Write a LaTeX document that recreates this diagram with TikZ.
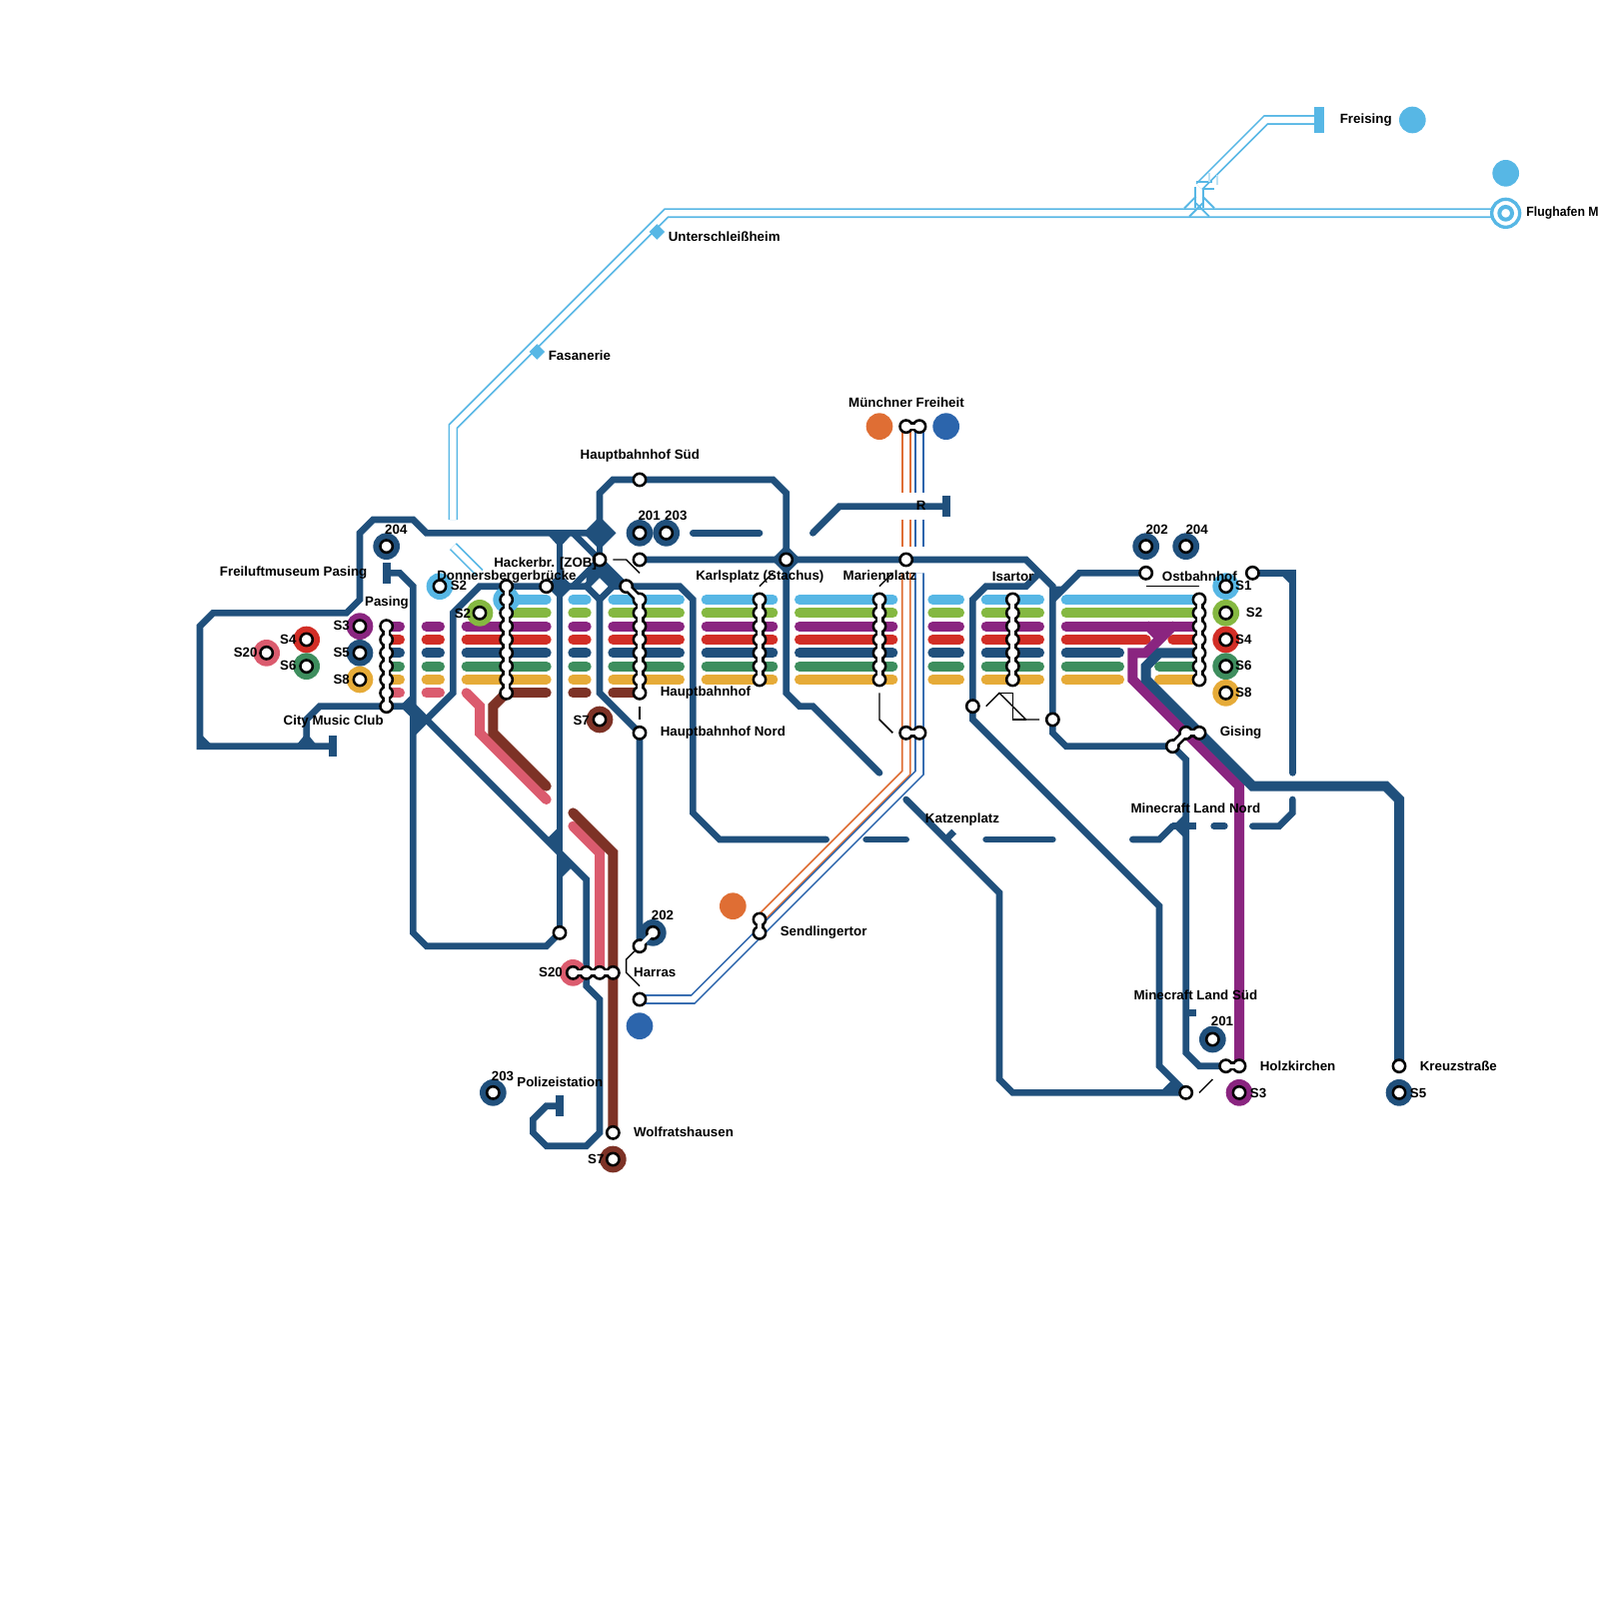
\documentclass[tikz,border=0pt]{standalone}
\usepackage{fontspec}
\setmainfont{Liberation Sans}
\usetikzlibrary{shapes.geometric,backgrounds}
\definecolor{cS1}{RGB}{87,183,229}
\definecolor{cS2}{RGB}{133,184,65}
\definecolor{cS3}{RGB}{138,37,128}
\definecolor{cS4}{RGB}{210,46,38}
\definecolor{cS5}{RGB}{32,80,124}
\definecolor{cS6}{RGB}{62,142,94}
\definecolor{cS7}{RGB}{125,50,38}
\definecolor{cS8}{RGB}{230,171,56}
\definecolor{cS20}{RGB}{219,91,110}
\definecolor{cOrange}{RGB}{223,110,52}
\definecolor{cBlue}{RGB}{44,101,172}
\tikzset{
  tline/.style={draw=cS5,line width=1mm,line cap=round,line join=miter},
  tbutt/.style={draw=cS5,line width=1mm,line cap=butt},
  fat/.style={draw=#1,line width=1.5mm,line cap=round,line join=miter},
  stripe/.style={draw=#1,line width=1.5mm,line cap=round},
  dbl/.style={draw=#1,double=white,line width=0.25mm,double distance=0.95mm,line cap=butt,line join=miter},
  hair/.style={draw=cS1,line width=0.28mm},
  leader/.style={draw=black,line width=0.22mm},
  stop/.style={circle,draw=black,fill=white,line width=0.38mm,minimum size=1.85mm,inner sep=0pt},
  disc/.style={circle,fill=#1,minimum size=4mm,inner sep=0pt},
  term/.style={rectangle,fill=cS5,minimum width=1.2mm,minimum height=3.2mm,inner sep=0pt},
  hub/.style={diamond,fill=cS5,aspect=1,minimum size=#1,inner sep=0pt},
  halt/.style={diamond,fill=cS1,aspect=1,minimum size=2.4mm,inner sep=0pt},
  neckout/.style={draw=black,line width=1.35mm,line cap=butt},
  neckin/.style={draw=white,line width=0.6mm,line cap=butt},
  lbl/.style={font=\bfseries\fontsize{5.69}{7}\selectfont,inner sep=0pt,xshift=0.05mm,yshift=-0.15mm},
  lblw/.style={lbl,anchor=west},
}
\begin{document}
\begin{tikzpicture}[x=2mm,y=-2mm]
  \useasboundingbox (0,0) rectangle (120,120);
  % end bars and hubs
  \node[term] (pasEnd) at (29,43) {};
  \node[term] (cityEnd) at (25,56) {};
  \node[term] (polEnd) at (42,83) {};
  \node[term] (rEnd) at (71,38) {};
  \node[rectangle,fill=cS1,minimum width=1.5mm,minimum height=3.8mm,inner sep=0pt] (freiEnd) at (99,9) {};
  \node[hub=5mm] (hubW) at (45,40) {};
  \node[hub=4.5mm] (hubK) at (59,42) {};
  \node[halt] (fasan) at (40.3,26.4) {};
  \node[halt] (unter) at (49.3,17.4) {};
  % discs
  \foreach \c/\px/\py [count=\i] in {cS20/20/49,cS4/23/48,cS6/23/50,cS3/27/47,cS5/27/49,cS8/27/51,cS5/29/41,
      cS1/33/44,cS2/36/46,cS1/38/45,cS7/45/54,cS5/48/40,cS5/50/40,cS5/49/70,cS20/43/73,cBlue/48/77,cOrange/55/68,
      cS5/37/82,cS7/46/87,cOrange/66/32,cBlue/71/32,cS5/86/41,cS5/89/41,cS1/92/44,cS2/92/46,cS4/92/48,cS6/92/50,
      cS8/92/52,cS5/91/78,cS3/93/82,cS5/105/82,cS1/106/9,cS1/113/13}
    \node[disc=\c] (disc\i) at (\px,\py) {};
  % stops
  \foreach \n in {47,...,53} \node[stop] (pas\n) at (29,\n) {};
  \foreach \n in {44,...,52} \node[stop] (dbb\n) at (38,\n) {};
  \foreach \n in {45,...,52} \node[stop] (hbf\n) at (48,\n) {};
  \foreach \n in {45,...,51} {
    \node[stop] (karl\n) at (57,\n) {};
    \node[stop] (mar\n) at (66,\n) {};
    \node[stop] (isa\n) at (76,\n) {};
    \node[stop] (ost\n) at (90,\n) {};
  }
  \foreach \nm/\px/\py in {sWest/20/49,sFour/23/48,sSix/23/50,sThree/27/47,sFive/27/49,sEight/27/51,busP/29/41,
      sOneA/33/44,sTwoA/36/46,hack/41/44,halle/42/70,zob/45/42,sSeven/45/54,hbfA/47/44,hbfS/48/36,bus201/48/40,
      hbfO/48/42,bus203/50/40,hbfN/48/55,harrA/48/71,bus202/49/70,harrU/48/75,harA/43/73,harB/44/73,harC/45/73,harD/46/73,
      send/57/69,sendB/57/70,bus203b/37/82,wolf/46/85,sSevenB/46/87,freiA/68/32,freiB/69/32,sta/59/42,
      marO/68/42,marA/68/55,marB/69/55,isaW/73/53,isaO/79/54,ostW/86/43,ostO/94/43,bus202b/86/41,bus204b/89/41,
      sOne/92/44,sTwo/92/46,sFour2/92/48,sSix2/92/50,sEight2/92/52,gisA/88/56,gisB/89/55,gisC/90/55,
      bus201b/91/78,holzA/92/80,holzB/93/80,sThree2/93/82,mcs/89/82,kreuz/105/80,sFive2/105/82}
    \node[stop] (\nm) at (\px,\py) {};
  \node[circle,draw=cS1,fill=white,line width=0.5mm,minimum size=4.2mm,inner sep=0pt] (airO) at (113,16) {};
  \node[circle,draw=cS1,fill=white,line width=0.6mm,minimum size=1.9mm,inner sep=0pt] (airI) at (113,16) {};
  % necks on top of the dots
  \foreach \a/\b in {pas47/pas53,dbb44/dbb52,hbfA/hbf45,hbf45/hbf52,karl45/karl51,mar45/mar51,isa45/isa51,ost45/ost51,
      freiA/freiB,marA/marB,send/sendB,harA/harD,holzA/holzB,gisA/gisB,gisB/gisC,harrA/bus202}
    \draw[neckin] (\a.center) -- (\b.center);
  % labels
  \node[lbl] (t204a) at (29.7,39.7) {204};
  \node[lbl] (tFrei) at (22,42.9) {Freiluftmuseum Pasing};
  \node[lbl] (tPas) at (29,45.15) {Pasing};
  \node[lbl] (tDbb) at (38,43.2) {Donnersbergerbrücke};
  \node[lbl] (tHack) at (40.9,42.2) {Hackerbr. [ZOB]};
  \node[lbl] (tHbfS) at (48,34.15) {Hauptbahnhof Süd};
  \node[lbl] (t201) at (48.7,38.65) {201};
  \node[lbl] (t203) at (50.7,38.65) {203};
  \node[lbl] (tKarl) at (57,43.2) {Karlsplatz (Stachus)};
  \node[lbl] (tMar) at (66,43.2) {Marienplatz};
  \node[lbl] (tIsa) at (76,43.2) {Isartor};
  \node[lbl] (tOst) at (90,43.2) {Ostbahnhof};
  \node[lbl] (t202b) at (86.8,39.7) {202};
  \node[lbl] (t204b) at (89.8,39.7) {204};
  \node[lbl] (tR) at (69.1,37.9) {R};
  \node[lbl] (tMfr) at (68,30.15) {Münchner Freiheit};
  \node[lblw] (tFreis) at (100.5,8.9) {Freising};
  \node[lblw,transform shape,xscale=0.92] (tAir) at (114.5,15.9) {Flughafen M};
  \node[lblw] (tUnter) at (50.1,17.7) {Unterschleißheim};
  \node[lblw] (tFasan) at (41.1,26.6) {Fasanerie};
  \node[lblw] (tHbf) at (49.5,51.9) {Hauptbahnhof};
  \node[lblw] (tHbfN) at (49.5,54.9) {Hauptbahnhof Nord};
  \node[lbl] (tS7a) at (43.6,54) {S7};
  \node[lbl] (tS7b) at (44.7,86.9) {S7};
  \node[lbl] (tS20a) at (18.4,48.9) {S20};
  \node[lbl] (tS4a) at (21.6,47.9) {S4};
  \node[lbl] (tS6a) at (21.6,49.9) {S6};
  \node[lbl] (tS3a) at (25.6,46.9) {S3};
  \node[lbl] (tS5a) at (25.6,48.9) {S5};
  \node[lbl] (tS8a) at (25.6,50.9) {S8};
  \node[lbl] (tCity) at (25,54.1) {City Music Club};
  \node[lbl] (tS2a) at (34.4,43.9) {S2};
  \node[lbl] (tS2b) at (34.7,46) {S2};
  \node[lbl] (tKatz) at (72.2,61.4) {Katzenplatz};
  \node[lbl] (tMcN) at (89.7,60.6) {Minecraft Land Nord};
  \node[lbl] (tMcS) at (89.7,74.6) {Minecraft Land Süd};
  \node[lbl] (t201b) at (91.7,76.6) {201};
  \node[lblw] (tHolz) at (94.5,79.9) {Holzkirchen};
  \node[lblw] (tKreuz) at (106.5,79.9) {Kreuzstraße};
  \node[lbl] (tS3b) at (94.4,82) {S3};
  \node[lbl] (tS5b) at (106.4,82) {S5};
  \node[lblw] (tGis) at (91.5,54.9) {Gising};
  \node[lbl] (t203b) at (37.7,80.7) {203};
  \node[lbl] (tPol) at (42,81.1) {Polizeistation};
  \node[lblw] (tWolf) at (47.5,84.9) {Wolfratshausen};
  \node[lblw] (tHarr) at (47.5,72.9) {Harras};
  \node[lblw] (tSend) at (58.5,69.9) {Sendlingertor};
  \node[lbl] (tS20b) at (41.3,72.9) {S20};
  \node[lbl] (tS1) at (93.3,43.9) {S1};
  \node[lbl] (tS2c) at (94.1,45.9) {S2};
  \node[lbl] (tS4b) at (93.3,47.9) {S4};
  \node[lbl] (tS6b) at (93.3,49.9) {S6};
  \node[lbl] (tS8b) at (93.3,51.9) {S8};
  \node[lbl] (t202) at (49.7,68.6) {202};
  % everything else goes under the dots
  \begin{scope}[on background layer]
    % airport line
    \draw[dbl=cS1] (34,39) -- (34,32) -- (50,16) -- (airO.center);
    \draw[dbl=cS1] (34,41) -- (36,43);
    \draw[dbl=cS1] (90,14) -- (95,9) -- (freiEnd.center);
    \draw[hair] (89.7,14) -- (89.7,15.6) (90.3,14.2) -- (90.3,15.6);
    \draw[hair] (88.88,15.63) -- (89.75,14.75) (91.13,15.63) -- (90.25,14.75);
    \draw[hair] (89.25,16.25) -- (90.25,15.25) (90.75,16.25) -- (89.75,15.25);
    \draw[hair] (89.75,13.63) -- (91,13.63) (90.25,14.2) -- (91.13,14.2);
    \draw[hair,cS1!40] (90.75,13) -- (90.75,13.63) (91.38,13.1) -- (91.38,13.88);
    % orange and blue
    \draw[dbl=cOrange] (freiA.center) -- (68,37);
    \draw[dbl=cOrange] (68,39) -- (68,41);
    \draw[dbl=cOrange] (68,43) -- (68,58) -- (send.center);
    \draw[dbl=cBlue] (freiB.center) -- (69,37);
    \draw[dbl=cBlue] (69,39) -- (69,41);
    \draw[dbl=cBlue] (69,43) -- (69,58) -- (sendB.center);
    \draw[dbl=cBlue] (sendB.center) -- (52,75) -- (harrU.center);
    % stripes
    \foreach \xa/\xb in {29/30,32/33,35/41,43/44,46/51,53/58,60/67,70/72,74/78}
      \foreach \py/\c in {47/cS3,48/cS4,49/cS5,50/cS6,51/cS8}
        \draw[stripe=\c] (\xa,\py) -- (\xb,\py);
    \foreach \xa/\xb in {38/41,43/44,46/51,53/58,60/67,70/72,74/78,80/90} {
      \draw[stripe=cS1] (\xa,45) -- (\xb,45);
      \draw[stripe=cS2] (\xa,46) -- (\xb,46);
    }
    \foreach \xa/\xb in {29/30,32/33} \draw[stripe=cS20] (\xa,52) -- (\xb,52);
    \foreach \xa/\xb in {43/44,46/48} \draw[stripe=cS7] (\xa,52) -- (\xb,52);
    \foreach \py/\c/\xa/\xb in {47/cS3/80/90,48/cS4/80/86,48/cS4/88/90,49/cS5/80/84,50/cS6/80/84,50/cS6/87/90,51/cS8/80/84,51/cS8/87/90}
      \draw[stripe=\c] (\xa,\py) -- (\xb,\py);
    % pink and brown
    \draw[stripe=cS20,line join=miter] (35,52) -- (36,53) -- (36,55) -- (41,60);
    \draw[stripe=cS7,line join=miter] (dbb52.center) -- (41,52);
    \draw[stripe=cS7,line join=miter] (dbb52.center) -- (37,53) -- (37,55) -- (41,59);
    \draw[tline] (pas53.center) -- (31,53) -- (44,66) -- (44,74) -- (45,75) -- (45,85) -- (44,86) -- (41,86) -- (40,85) -- (40,84) -- (41,83) -- (polEnd.center);
    \draw[stripe=cS20,line join=miter] (43,62) -- (45,64) -- (harC.center);
    \draw[stripe=cS7,line join=miter] (43,61) -- (46,64) -- (wolf.center);
    % dark loops
    \draw[tline] (cityEnd.center) -- (15,56) -- (15,47) -- (16,46) -- (26,46) -- (27,45) -- (27,40) -- (28,39) -- (31,39) -- (32,40) -- (hubW.center);
    \draw[tline] (pas53.center) -- (24,53) -- (23,54) -- (23,56);
    \draw[tline] (pasEnd.center) -- (30,43) -- (31,44) -- (31,70) -- (32,71) -- (41,71) -- (halle.center);
    \draw[tline] (42,40) -- (halle.center);
    \draw[tline] (31,55) -- (34,52) -- (34,46) -- (36,44) -- (44,44);
    \draw[tline] (45,43) -- (44,44) -- (45,45) -- (46,44) -- cycle;
    \draw[tline] (43,40) -- (hbfA.center);
    \draw[tline] (zob.center) -- (43,44);
    \draw[tline] (hubW.center) -- (45,43);
    \draw[tline] (45,45) -- (45,52) -- (hbfN.center) -- (harrA.center);
    \draw[tline] (46,44) -- (51,44) -- (52,45) -- (52,61) -- (54,63) -- (62,63);
    \draw[tline] (65,63) -- (68,63);
    \draw[tline] (74,63) -- (79,63);
    \draw[tline] (85,63) -- (87,63) -- (88,62);
    \draw[tbutt] (88,62) -- (89.75,62);
    \draw[tbutt] (89,76) -- (89.75,76);
    \draw[tline] (91.1,62) -- (91.9,62);
    \draw[tline] (94,62) -- (96,62) -- (97,61) -- (97,60);
    \draw[tline] (52,40) -- (57,40);
    \draw[tline] (61,40) -- (63,38) -- (rEnd.center);
    \draw[tline] (hubW.center) -- (45,37) -- (46,36) -- (58,36) -- (59,37) -- (59,52) -- (60,53) -- (61,53) -- (66,58);
    \draw[tline] (hbfO.center) -- (77,42) -- (79,44) -- (79,55) -- (80,56) -- (gisA.center) -- (89,57) -- (89,79) -- (90,80) -- (holzA.center);
    \draw[tline] (79,45) -- (81,43) -- (ostW.center);
    \draw[tline] (ostO.center) -- (97,43) -- (97,58);
    \draw[tline] (78,43) -- (77,44) -- (74,44) -- (73,45) -- (73,54) -- (87,68) -- (87,80) -- (mcs.center);
    \draw[tline] (68,60) -- (75,67) -- (75,81) -- (76,82) -- (mcs.center);
    \draw[tbutt] (71,63) -- (71.6,62.4);
    % junction wedges
    \fill[cS5] (22,56.2) -- (23,55) -- (24,56.2) -- cycle;
    \fill[cS5] (15,55) -- (16,56) -- (15,56) -- cycle;
    \fill[cS5] (30,53) -- (31,52) -- (31,54) -- cycle;
    \fill[cS5] (31,53) -- (32,54) -- (31,55) -- cycle;
    \fill[cS5] (41,40) -- (43,40) -- (42,41.1) -- cycle;
    \fill[cS5] (41,44) -- (42,43) -- (43,44) -- (42,45) -- cycle;
    \fill[cS5] (45,42) -- (47,44) -- (46,44) -- (45,43) -- cycle;
    \fill[cS5] (44,43) -- (45,42) -- (45,43) -- (44,44) -- cycle;
    \fill[cS5] (42,62) -- (41,63) -- (42,64) -- cycle;
    \fill[cS5] (42,64) -- (43,65) -- (42,66) -- cycle;
    \fill[cS5] (88,62) -- (89,61) -- (89,63) -- cycle;
    \fill[cS5] (87,82) -- (88,81) -- (89,82) -- cycle;
    \fill[cS5] (96,43) -- (97,43) -- (97,44) -- cycle;
    \fill[cS5] (79,44) -- (80,44) -- (79,45) -- cycle;
    % heavy lines
    \draw[fat=cS3] (88,47) -- (86,49) -- (85,49) -- (85,51) -- (93,59) -- (holzB.center);
    \draw[fat=cS3] (86.2,47) -- (87,47.8);
    \draw[fat=cS5] (ost49.center) -- (87,49) -- (86,50) -- (86,51) -- (94,59) -- (104,59) -- (105,60) -- (kreuz.center);
    % neck outlines and leaders
    \foreach \a/\b in {pas47/pas53,dbb44/dbb52,hbfA/hbf45,hbf45/hbf52,karl45/karl51,mar45/mar51,isa45/isa51,ost45/ost51,
        freiA/freiB,marA/marB,send/sendB,harA/harD,holzA/holzB,gisA/gisB,gisB/gisC,harrA/bus202}
      \draw[neckout] (\a.center) -- (\b.center);
    \draw[leader] (46,42) -- (47,42) -- (48,43);
    \draw[leader] (57,44) -- (58,43);
    \draw[leader] (66,44) -- (67,43);
    \draw[leader] (66,52) -- (66,54) -- (67,55);
    \draw[leader] (74,53) -- (75,52) -- (77,54) -- (78,54);
    \draw[leader] (75,52) -- (76,52) -- (76,54) -- (77,54);
    \draw[leader] (86,44) -- (90,44);
    \draw[leader] (47.6,71.4) -- (47,72) -- (47,73) -- (48,74);
    \draw[leader] (90,82) -- (91,81);
    \draw[leader] (48,53) -- (48,54);
  \end{scope}
\end{tikzpicture}
\end{document}
